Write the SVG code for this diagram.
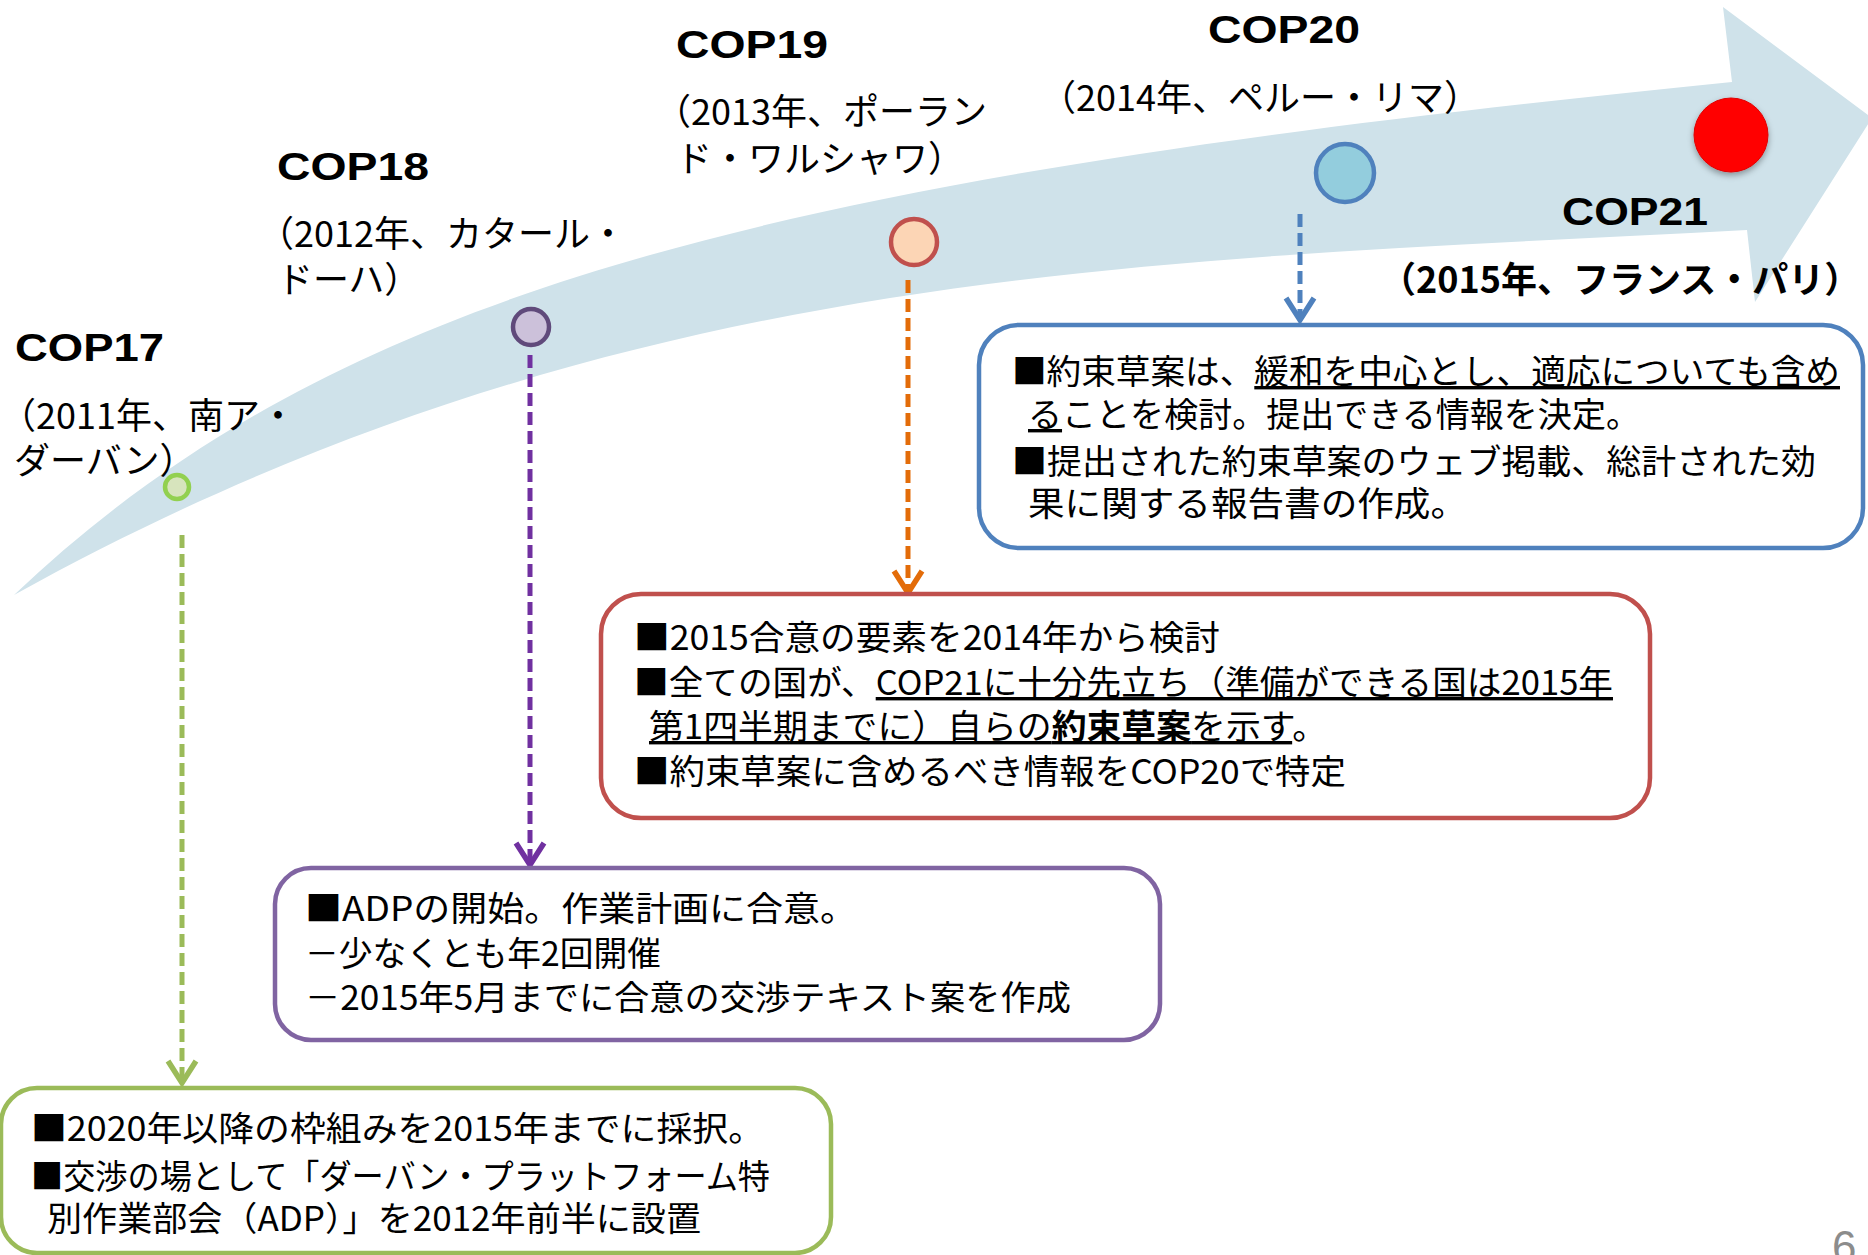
<svg xmlns="http://www.w3.org/2000/svg" width="1868" height="1255" viewBox="0 0 1868 1255">
<style>
.lbl{font-family:"Noto Sans CJK JP",sans-serif;font-size:36px;fill:#000}
.cop{font-family:"Liberation Sans",Arial,sans-serif;font-weight:bold;font-size:39px;fill:#000}
.bt{font-family:"Noto Sans CJK JP",sans-serif;font-size:34px;fill:#000}
.u{text-decoration:underline}
.box{fill:#fff;stroke-width:4.5}
.dash{fill:none;stroke-width:5;stroke-dasharray:13 6}
</style>
<defs>
<filter id="shadow" x="-30%" y="-30%" width="160%" height="160%">
<feDropShadow dx="0" dy="3" stdDeviation="3" flood-color="#000" flood-opacity="0.35"/>
</filter>
<marker id="mG" markerUnits="userSpaceOnUse" markerWidth="40" markerHeight="40" refX="0" refY="0" viewBox="-25 -20 30 40" orient="auto"><path d="M-22,-14 L0,0 L-22,14" fill="none" stroke="#9bbb59" stroke-width="5.5"/></marker>
<marker id="mP" markerUnits="userSpaceOnUse" markerWidth="40" markerHeight="40" refX="0" refY="0" viewBox="-25 -20 30 40" orient="auto"><path d="M-22,-14 L0,0 L-22,14" fill="none" stroke="#7030a0" stroke-width="5.5"/></marker>
<marker id="mO" markerUnits="userSpaceOnUse" markerWidth="40" markerHeight="40" refX="0" refY="0" viewBox="-25 -20 30 40" orient="auto"><path d="M-22,-14 L0,0 L-22,14" fill="none" stroke="#e36c09" stroke-width="5.5"/></marker>
<marker id="mB" markerUnits="userSpaceOnUse" markerWidth="40" markerHeight="40" refX="0" refY="0" viewBox="-25 -20 30 40" orient="auto"><path d="M-22,-14 L0,0 L-22,14" fill="none" stroke="#4f81bd" stroke-width="5.5"/></marker>
</defs>
<rect width="1868" height="1255" fill="#fff"/>

<g id="timeline-arrow">
<path d="M14,595 C339,286 782,177 1732,82 L1723,7 L1872,118 L1755,302 L1747,230 C1147,262 614,262 14,595 Z" fill="#cfe2ea"/>
</g>

<g id="connectors">
<path class="dash" d="M182,535 V1083" stroke="#9bbb59" marker-end="url(#mG)"/>
<path class="dash" d="M530,355 V865" stroke="#7030a0" marker-end="url(#mP)"/>
<path class="dash" d="M908,280 V593" stroke="#e36c09" marker-end="url(#mO)"/>
<path class="dash" d="M1300,214 V320" stroke="#4f81bd" marker-end="url(#mB)"/>
</g>

<g id="cop17">
<text class="cop" x="15" y="361" textLength="149" lengthAdjust="spacingAndGlyphs">COP17</text>
<text class="lbl" x="0" y="429">（2011年、南ア・</text>
<text class="lbl" x="14" y="474">ダーバン）</text>
<circle cx="177" cy="487" r="12" fill="#d7e4bd" stroke="#92d050" stroke-width="4.5"/>
</g>

<g id="cop18">
<text class="cop" x="277" y="180" textLength="152" lengthAdjust="spacingAndGlyphs">COP18</text>
<text class="lbl" x="258" y="247">（2012年、カタール・</text>
<text class="lbl" x="277" y="293">ドーハ）</text>
<circle cx="531" cy="327" r="18" fill="#ccc1da" stroke="#604a7b" stroke-width="4.5"/>
</g>

<g id="cop19">
<text class="cop" x="676" y="58" textLength="152" lengthAdjust="spacingAndGlyphs">COP19</text>
<text class="lbl" x="655" y="125">（2013年、ポーラン</text>
<text class="lbl" x="676" y="172">ド・ワルシャワ）</text>
<circle cx="914" cy="242" r="23" fill="#fcd5b5" stroke="#c0504d" stroke-width="4.5"/>
</g>

<g id="cop20">
<text class="cop" x="1208" y="43" textLength="152" lengthAdjust="spacingAndGlyphs">COP20</text>
<text class="lbl" x="1040" y="111">（2014年、ペルー・リマ）</text>
<circle cx="1345" cy="173" r="29" fill="#93cddd" stroke="#4f81bd" stroke-width="4.5"/>
</g>

<g id="cop21">
<circle cx="1731" cy="135" r="37" fill="#ff0000" stroke="#e00000" stroke-width="1" filter="url(#shadow)"/>
<text class="cop" x="1562" y="225" textLength="146" lengthAdjust="spacingAndGlyphs">COP21</text>
<text class="lbl" x="1380" y="293" font-size="35" font-weight="bold">（2015年、フランス・パリ）</text>
</g>

<g id="box-cop20">
<rect class="box" x="979" y="325" width="884" height="223" rx="40" stroke="#4f81bd"/>
<text class="bt" x="1012" y="384" textLength="828" lengthAdjust="spacingAndGlyphs">■約束草案は、<tspan class="u">緩和を中心とし、適応についても含め</tspan></text>
<text class="bt" x="1028" y="427" textLength="612" lengthAdjust="spacingAndGlyphs"><tspan class="u">る</tspan>ことを検討。提出できる情報を決定。</text>
<text class="bt" x="1012" y="474" textLength="804" lengthAdjust="spacingAndGlyphs">■提出された約束草案のウェブ掲載、総計された効</text>
<text class="bt" x="1028" y="516" textLength="439" lengthAdjust="spacingAndGlyphs">果に関する報告書の作成。</text>
</g>

<g id="box-cop19">
<rect class="box" x="601" y="594" width="1049" height="224" rx="40" stroke="#c0504d"/>
<text class="bt" x="634" y="650" textLength="586" lengthAdjust="spacingAndGlyphs">■2015合意の要素を2014年から検討</text>
<text class="bt" x="634" y="695" textLength="979" lengthAdjust="spacingAndGlyphs">■全ての国が、<tspan class="u">COP21に十分先立ち（準備ができる国は2015年</tspan></text>
<text class="bt" x="649" y="739" textLength="678" lengthAdjust="spacingAndGlyphs"><tspan class="u">第1四半期までに）自らの<tspan font-weight="bold">約束草案</tspan>を示す</tspan>。</text>
<text class="bt" x="634" y="784" textLength="712" lengthAdjust="spacingAndGlyphs">■約束草案に含めるべき情報をCOP20で特定</text>
</g>

<g id="box-cop18">
<rect class="box" x="275" y="868" width="885" height="172" rx="36" stroke="#8064a2"/>
<text class="bt" x="305" y="921" textLength="552" lengthAdjust="spacingAndGlyphs">■ADPの開始。作業計画に合意。</text>
<text class="bt" x="305" y="966" textLength="356" lengthAdjust="spacingAndGlyphs">－少なくとも年2回開催</text>
<text class="bt" x="305" y="1010" textLength="766" lengthAdjust="spacingAndGlyphs">－2015年5月までに合意の交渉テキスト案を作成</text>
</g>

<g id="box-cop17">
<rect class="box" x="1" y="1088" width="830" height="165" rx="36" stroke="#9bbb59"/>
<text class="bt" x="31" y="1141" textLength="733" lengthAdjust="spacingAndGlyphs">■2020年以降の枠組みを2015年までに採択。</text>
<text class="bt" x="31" y="1189" textLength="739" lengthAdjust="spacingAndGlyphs">■交渉の場として「ダーバン・プラットフォーム特</text>
<text class="bt" x="47" y="1231" textLength="654" lengthAdjust="spacingAndGlyphs">別作業部会（ADP）」を2012年前半に設置</text>
</g>

<g id="page-number">
<text x="1832" y="1262" font-family="Liberation Sans, sans-serif" font-size="44" fill="#8c8c8c">6</text>
</g>
</svg>
